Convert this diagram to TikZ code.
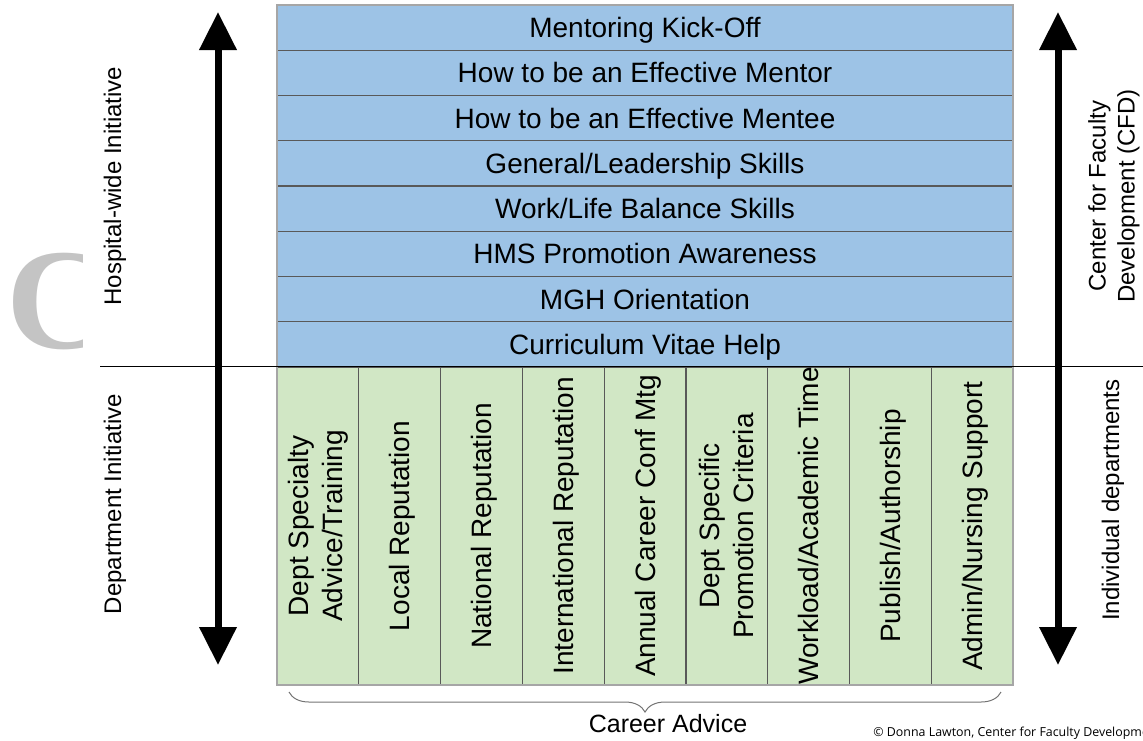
\documentclass[tikz,border=0pt]{standalone}
\usepackage{fontspec}
\setmainfont{Liberation Sans}
\newfontfamily\logofont{Liberation Serif}
\newfontfamily\notefont{Open Sans}
\usetikzlibrary{arrows.meta,decorations.pathreplacing}

\definecolor{rowblue}{HTML}{9DC3E6}
\definecolor{colgreen}{HTML}{D1E7C5}

\tikzset{
	toprow/.style={draw=black!65, line width=0.6pt, fill=rowblue, minimum width=368pt,
		minimum height=22.625pt, inner sep=0pt, text height=10pt, text depth=0pt,
		font=\fontsize{14}{17}\selectfont},
	deptcol/.style={draw=black!65, line width=0.6pt, fill=colgreen, rotate=90, minimum width=159pt,
		minimum height=40.89pt, inner sep=0pt, align=center, font=\fontsize{14}{17}\selectfont},
	oneline/.style={text height=10pt, text depth=0pt},
	sidelabel/.style={rotate=90, align=center, font=\fontsize{12}{14.5}\selectfont},
	bigarrow/.style={line width=3.5pt, {Triangle[width=18pt,length=19pt]}-{Triangle[width=18pt,length=19pt]}},
}

\begin{document}
\begin{tikzpicture}[x=0.5pt, y=-0.5pt]
		%%%%% START %%%%%
		\useasboundingbox (0,0) rectangle (1143,740);
		
		% faded logo letter
		\begin{scope}
			\clip (0,240) rectangle (82,360);
			\node[text=black!23, font=\logofont\bfseries\fontsize{72}{72}\selectfont] (logo) at (58,302) {C};
		\end{scope}
		
		% CFD sessions
		\node[toprow] (kickoff) at (645,27.6) {Mentoring Kick-Off};
		\node[toprow] (mentor) at (645,72.9) {How to be an Effective Mentor};
		\node[toprow] (mentee) at (645,118.1) {How to be an Effective Mentee};
		\node[toprow] (leadership) at (645,163.4) {General/Leadership Skills};
		\node[toprow] (worklife) at (645,208.6) {Work/Life Balance Skills};
		\node[toprow] (promotion) at (645,253.9) {HMS Promotion Awareness};
		\node[toprow] (orientation) at (645,299.1) {MGH Orientation};
		\node[toprow] (cv) at (645,344.4) {Curriculum Vitae Help};
		
		% department topics
		\node[deptcol] (specialty) at (317.9,526) {Dept Specialty\\Advice/Training};
		\node[deptcol, oneline] (local) at (399.7,526) {Local Reputation};
		\node[deptcol, oneline] (national) at (481.5,526) {National Reputation};
		\node[deptcol, oneline] (international) at (563.2,526) {International Reputation};
		\node[deptcol, oneline] (annual) at (645,526) {Annual Career Conf Mtg};
		\node[deptcol] (criteria) at (726.8,526) {Dept Specific\\Promotion Criteria};
		\node[deptcol, oneline] (workload) at (808.6,526) {Workload/Academic Time};
		\node[deptcol, oneline] (publish) at (890.3,526) {Publish/Authorship};
		\node[deptcol, oneline] (admin) at (972.1,526) {Admin/Nursing Support};
		
		\draw[black!35, line width=0.8pt] (277,5) rectangle (1013,685);
		
		% split between the two levels
		\draw[line width=0.8pt] (100,366.5) -- (1143,366.5);
		
		% up/down arrows
		\coordinate (lefttop) at (218,12);
		\coordinate (leftbot) at (218,665);
		\coordinate (righttop) at (1058,12);
		\coordinate (rightbot) at (1058,665);
		\draw[bigarrow] (leftbot) -- (lefttop);
		\draw[bigarrow] (rightbot) -- (righttop);
		
		\node[sidelabel] (hospital) at (115,186) {Hospital-wide Initiative};
		\node[sidelabel] (department) at (115,504) {Department Initiative};
		\node[sidelabel] (cfd) at (1114,196) {Center for Faculty\\Development (CFD)};
		\node[sidelabel] (individual) at (1113,500) {Individual departments};
		
		% brace under the columns
		\draw[decorate, decoration={brace, mirror, amplitude=10pt}, black!55, line width=0.5pt]
			(289,692) -- (1001,692);
		\node[font=\fontsize{12.5}{15}\selectfont] (career) at (668,724) {Career Advice};
		
		\node[anchor=west, inner sep=0pt, font=\notefont\fontsize{6.2}{7}\selectfont] (credit) at (873,733)
			{\textcopyright{} Donna Lawton, Center for Faculty Development};
		
		%%%%% END %%%%%
	\end{tikzpicture}
\end{document}
